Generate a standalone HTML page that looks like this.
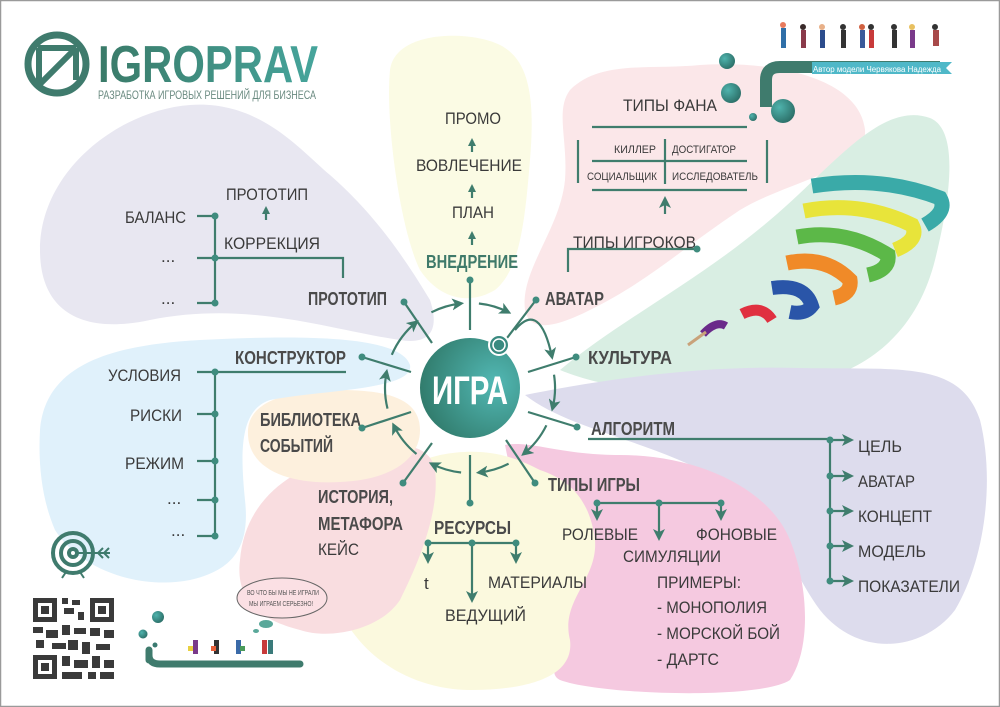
<!DOCTYPE html>
<html><head><meta charset="utf-8"><style>
html,body{margin:0;padding:0;background:#fff}
svg{display:block}
text{font-family:"Liberation Sans","DejaVu Sans",sans-serif}
.r{fill:#3a3a3a;font-size:17px}
.b{fill:#4a4a4a;font-size:18px;font-weight:bold}
.g{fill:#3f7a6a;font-size:18px;font-weight:bold}
.s{fill:#3a3a3a;font-size:11px}
.ln{stroke:#3f7d6d;stroke-width:2.2;fill:none}
.d{fill:#3f8c7e}
</style></head><body>
<svg width="1000" height="707" viewBox="0 0 1000 707" xmlns="http://www.w3.org/2000/svg">
<defs>
<marker id="ah" markerWidth="8" markerHeight="8" refX="6" refY="4" orient="auto" markerUnits="userSpaceOnUse"><path d="M0,0 L8,4 L0,8 z" fill="#3f7d6d"/></marker>
<marker id="ah2" markerWidth="12" markerHeight="12" refX="9" refY="6" orient="auto" markerUnits="userSpaceOnUse"><path d="M0,0 L12,6 L0,12 L3,6 z" fill="#3f7d6d"/></marker>
<radialGradient id="cg" cx="0.75" cy="0.45" r="0.8"><stop offset="0" stop-color="#52b8b4"/><stop offset="1" stop-color="#2f7868"/></radialGradient>
<linearGradient id="lg" x1="0" x2="1"><stop offset="0" stop-color="#3a7a68"/><stop offset="1" stop-color="#46a59c"/></linearGradient>
<radialGradient id="bg" cx="0.35" cy="0.35" r="0.7"><stop offset="0" stop-color="#4fb3ad"/><stop offset="1" stop-color="#2c6f68"/></radialGradient>
</defs>
<rect x="0.5" y="0.5" width="999" height="706" fill="#fff" stroke="#9a9a9a" stroke-width="1.5"/>

<!-- blobs -->
<path d="M40,250 C40,170 120,110 190,105 C260,100 300,150 330,175 C370,210 400,250 430,300 C440,330 430,345 400,340 C330,330 250,300 150,320 C80,335 40,310 40,250z" fill="#e8e7f1"/>
<path d="M390,70 C395,30 470,30 500,45 C530,60 535,100 530,160 C525,220 520,270 495,290 C470,305 440,300 420,270 C400,230 385,120 390,70z" fill="#fbfbe4"/>
<path d="M570,90 C600,60 650,70 700,65 C780,60 860,80 865,130 C868,170 790,180 740,210 C680,250 650,280 590,310 C560,325 530,335 525,310 C520,270 560,230 565,180 C568,140 555,110 570,90z" fill="#fbe7e9"/>
<path d="M560,370 C620,320 700,280 770,220 C830,170 880,100 930,118 C960,130 950,200 935,260 C920,320 880,370 800,385 C720,400 620,395 560,370z" fill="#d9eee3"/>
<path d="M525,395 C600,380 700,365 800,368 C900,370 960,360 980,420 C995,480 985,560 955,610 C925,650 860,660 820,610 C790,570 780,520 720,480 C650,440 570,430 525,395z" fill="#dddced"/>
<path d="M505,445 C530,440 560,455 620,455 C700,455 770,490 790,540 C810,590 810,650 790,680 C760,700 600,695 560,680 C540,670 580,640 560,610 C540,570 520,520 505,445z" fill="#f5c9e0"/>
<path d="M330,560 C330,500 380,470 440,455 C490,445 520,460 540,470 C570,480 590,500 595,540 C598,580 560,600 570,640 C575,680 520,690 470,690 C400,690 330,640 330,560z" fill="#fbf9de"/>
<path d="M240,560 C245,500 290,470 340,455 C390,440 430,440 435,470 C440,510 420,560 400,600 C380,630 330,640 300,630 C260,620 235,600 240,560z" fill="#f9dde0"/>
<path d="M248,430 C250,400 290,390 340,390 C390,390 420,400 420,430 C420,460 390,480 340,482 C290,485 246,470 248,430z" fill="#fdf0dd"/>
<path d="M40,430 C45,365 110,345 200,340 C300,335 400,335 410,365 C415,390 320,390 270,400 C240,410 240,450 245,500 C250,545 235,570 190,580 C140,590 80,570 55,530 C42,500 38,465 40,430z" fill="#e0f1fb"/>

<!-- logo -->
<circle cx="57" cy="64" r="29" fill="none" stroke="#3f7b6d" stroke-width="7"/>
<path d="M38,48 L76,48 M39,48 L39,84 M76,48 L76,80 M40,84 L76,48" stroke="#3f7b6d" stroke-width="6" fill="none"/>
<text x="98" y="82" font-size="52" font-weight="bold" fill="url(#lg)" textLength="220" lengthAdjust="spacingAndGlyphs">IGROPRAV</text>
<text x="98" y="99" font-size="12" fill="#6a8a80" textLength="218" lengthAdjust="spacingAndGlyphs">РАЗРАБОТКА ИГРОВЫХ РЕШЕНИЙ ДЛЯ БИЗНЕСА</text>

<!-- top branch -->
<text class="r" x="445" y="124" textLength="56" lengthAdjust="spacingAndGlyphs">ПРОМО</text>
<text class="r" x="416" y="171" textLength="106" lengthAdjust="spacingAndGlyphs">ВОВЛЕЧЕНИЕ</text>
<text class="r" x="452" y="218" textLength="42" lengthAdjust="spacingAndGlyphs">ПЛАН</text>
<text class="g" x="426" y="268" textLength="92" lengthAdjust="spacingAndGlyphs">ВНЕДРЕНИЕ</text>
<line class="ln" x1="472" y1="152" x2="472" y2="140" marker-end="url(#ah)"/>
<line class="ln" x1="472" y1="198" x2="472" y2="186" marker-end="url(#ah)"/>
<line class="ln" x1="472" y1="245" x2="472" y2="233" marker-end="url(#ah)"/>

<!-- prototype branch -->
<text class="r" x="226" y="200" textLength="82" lengthAdjust="spacingAndGlyphs">ПРОТОТИП</text>
<line class="ln" x1="266" y1="220" x2="266" y2="208" marker-end="url(#ah)"/>
<text class="r" x="224" y="249" textLength="96" lengthAdjust="spacingAndGlyphs">КОРРЕКЦИЯ</text>
<text class="r" x="125" y="223" textLength="61" lengthAdjust="spacingAndGlyphs">БАЛАНС</text>
<text class="r" x="161" y="262">...</text>
<text class="r" x="161" y="304">...</text>
<path class="ln" d="M197,216 H215 M215,216 V303 M197,258 H343 V278 M197,303 H215"/>
<circle class="d" cx="215" cy="216" r="3.5"/><circle class="d" cx="215" cy="258" r="3.5"/><circle class="d" cx="215" cy="303" r="3.5"/>
<text class="b" x="308" y="305" textLength="79" lengthAdjust="spacingAndGlyphs">ПРОТОТИП</text>

<!-- constructor -->
<text class="b" x="235" y="364" textLength="111" lengthAdjust="spacingAndGlyphs">КОНСТРУКТОР</text>
<path class="ln" d="M197,372 H346 M215,372 V536 M197,414 H215 M197,461 H215 M197,500 H215 M197,536 H215"/>
<circle class="d" cx="215" cy="372" r="3.5"/><circle class="d" cx="215" cy="414" r="3.5"/><circle class="d" cx="215" cy="461" r="3.5"/><circle class="d" cx="215" cy="500" r="3.5"/><circle class="d" cx="215" cy="536" r="3.5"/>
<text class="r" x="108" y="381" textLength="73" lengthAdjust="spacingAndGlyphs">УСЛОВИЯ</text>
<text class="r" x="130" y="421" textLength="52" lengthAdjust="spacingAndGlyphs">РИСКИ</text>
<text class="r" x="125" y="469" textLength="59" lengthAdjust="spacingAndGlyphs">РЕЖИМ</text>
<text class="r" x="167" y="504">...</text>
<text class="r" x="171" y="536">...</text>

<text class="b" x="260" y="426" textLength="101" lengthAdjust="spacingAndGlyphs">БИБЛИОТЕКА</text>
<text class="b" x="260" y="452" textLength="73" lengthAdjust="spacingAndGlyphs">СОБЫТИЙ</text>
<text class="b" x="318" y="503" textLength="75" lengthAdjust="spacingAndGlyphs">ИСТОРИЯ,</text>
<text class="b" x="318" y="530" textLength="85" lengthAdjust="spacingAndGlyphs">МЕТАФОРА</text>
<text class="r" x="318" y="555" textLength="41" lengthAdjust="spacingAndGlyphs">КЕЙС</text>

<!-- resources -->
<text class="b" x="434" y="534" textLength="77" lengthAdjust="spacingAndGlyphs">РЕСУРСЫ</text>
<path class="ln" d="M428,543 H516"/>
<line class="ln" x1="428" y1="543" x2="428" y2="561" marker-end="url(#ah2)"/>
<line class="ln" x1="472" y1="543" x2="472" y2="600" marker-end="url(#ah2)"/>
<line class="ln" x1="516" y1="543" x2="516" y2="561" marker-end="url(#ah2)"/>
<circle class="d" cx="428" cy="543" r="3.5"/><circle class="d" cx="472" cy="543" r="3.5"/><circle class="d" cx="516" cy="543" r="3.5"/>
<text class="r" x="424" y="589">t</text>
<text class="r" x="488" y="588" textLength="99" lengthAdjust="spacingAndGlyphs">МАТЕРИАЛЫ</text>
<text class="r" x="445" y="621" textLength="81" lengthAdjust="spacingAndGlyphs">ВЕДУЩИЙ</text>

<!-- game types -->
<text class="b" x="548" y="491" textLength="92" lengthAdjust="spacingAndGlyphs">ТИПЫ ИГРЫ</text>
<path class="ln" d="M597,503 H721"/>
<line class="ln" x1="597" y1="503" x2="597" y2="518" marker-end="url(#ah2)"/>
<line class="ln" x1="659" y1="503" x2="659" y2="538" marker-end="url(#ah2)"/>
<line class="ln" x1="721" y1="503" x2="721" y2="518" marker-end="url(#ah2)"/>
<circle class="d" cx="597" cy="503" r="3.5"/><circle class="d" cx="659" cy="503" r="3.5"/><circle class="d" cx="721" cy="503" r="3.5"/>
<text class="r" x="562" y="540" textLength="76" lengthAdjust="spacingAndGlyphs">РОЛЕВЫЕ</text>
<text class="r" x="696" y="540" textLength="81" lengthAdjust="spacingAndGlyphs">ФОНОВЫЕ</text>
<text class="r" x="623" y="562" textLength="98" lengthAdjust="spacingAndGlyphs">СИМУЛЯЦИИ</text>
<text class="r" x="657" y="588" textLength="84" lengthAdjust="spacingAndGlyphs">ПРИМЕРЫ:</text>
<text class="r" x="657" y="613" textLength="110" lengthAdjust="spacingAndGlyphs">- МОНОПОЛИЯ</text>
<text class="r" x="657" y="639" textLength="123" lengthAdjust="spacingAndGlyphs">- МОРСКОЙ БОЙ</text>
<text class="r" x="657" y="665" textLength="62" lengthAdjust="spacingAndGlyphs">- ДАРТС</text>

<!-- algorithm -->
<text class="b" x="591" y="435" textLength="84" lengthAdjust="spacingAndGlyphs">АЛГОРИТМ</text>
<path class="ln" d="M588,439 H830 V582"/>
<line class="ln" x1="830" y1="440" x2="851" y2="440" marker-end="url(#ah2)"/>
<line class="ln" x1="830" y1="476" x2="851" y2="476" marker-end="url(#ah2)"/>
<line class="ln" x1="830" y1="511" x2="851" y2="511" marker-end="url(#ah2)"/>
<line class="ln" x1="830" y1="546" x2="851" y2="546" marker-end="url(#ah2)"/>
<line class="ln" x1="830" y1="581" x2="851" y2="581" marker-end="url(#ah2)"/>
<circle class="d" cx="830" cy="440" r="3.5"/><circle class="d" cx="830" cy="476" r="3.5"/><circle class="d" cx="830" cy="511" r="3.5"/><circle class="d" cx="830" cy="546" r="3.5"/><circle class="d" cx="830" cy="581" r="3.5"/>
<text class="r" x="858" y="452" textLength="44" lengthAdjust="spacingAndGlyphs">ЦЕЛЬ</text>
<text class="r" x="858" y="487" textLength="57" lengthAdjust="spacingAndGlyphs">АВАТАР</text>
<text class="r" x="858" y="522" textLength="74" lengthAdjust="spacingAndGlyphs">КОНЦЕПТ</text>
<text class="r" x="858" y="557" textLength="68" lengthAdjust="spacingAndGlyphs">МОДЕЛЬ</text>
<text class="r" x="858" y="592" textLength="102" lengthAdjust="spacingAndGlyphs">ПОКАЗАТЕЛИ</text>

<text class="b" x="588" y="364" textLength="84" lengthAdjust="spacingAndGlyphs">КУЛЬТУРА</text>

<!-- avatar / fun types -->
<text class="b" x="545" y="305" textLength="59" lengthAdjust="spacingAndGlyphs">АВАТАР</text>
<text class="r" x="573" y="248" textLength="123" lengthAdjust="spacingAndGlyphs">ТИПЫ ИГРОКОВ</text>
<path class="ln" d="M568,272 V249 H697"/>
<circle class="d" cx="697" cy="249" r="3.5"/>
<line class="ln" x1="665" y1="214" x2="665" y2="199" marker-end="url(#ah2)"/>
<text class="r" x="623" y="111" textLength="94" lengthAdjust="spacingAndGlyphs">ТИПЫ ФАНА</text>
<path class="ln" d="M592,127 H747 M592,161 H747 M592,190 H747 M665,139 V184 M578,140 V183 M767,140 V183"/>
<text class="s" x="614" y="153" textLength="42" lengthAdjust="spacingAndGlyphs">КИЛЛЕР</text>
<text class="s" x="672" y="153" textLength="64" lengthAdjust="spacingAndGlyphs">ДОСТИГАТОР</text>
<text class="s" x="587" y="180" textLength="70" lengthAdjust="spacingAndGlyphs">СОЦИАЛЬЩИК</text>
<text class="s" x="672" y="180" textLength="86" lengthAdjust="spacingAndGlyphs">ИССЛЕДОВАТЕЛЬ</text>

<!-- decor top right -->
<circle cx="727" cy="61" r="8" fill="url(#bg)"/><circle cx="731" cy="93" r="10" fill="url(#bg)"/><circle cx="753" cy="117" r="4" fill="url(#bg)"/><circle cx="783" cy="111" r="12" fill="url(#bg)"/>
<path d="M766,107 V80 Q766,67 780,67 H940" stroke="#3f7b6d" stroke-width="12" fill="none"/>
<path d="M812,62 H952 L946,68 L952,74 H812z" fill="#4fb8c8"/>
<text x="813" y="72" font-size="8" fill="#fff" textLength="128" lengthAdjust="spacingAndGlyphs">Автор модели Червякова Надежда</text>
<g>
<rect x="781" y="28" width="5" height="20" fill="#2f6fa8"/><circle cx="783" cy="25" r="3" fill="#e87a5d"/>
<rect x="801" y="30" width="5" height="18" fill="#8a3a4a"/><circle cx="803" cy="27" r="3" fill="#3a2a2a"/>
<rect x="820" y="30" width="5" height="18" fill="#2c4c8c"/><circle cx="822" cy="27" r="3" fill="#e8b088"/>
<rect x="841" y="30" width="5" height="18" fill="#333"/><circle cx="843" cy="27" r="3" fill="#333"/>
<rect x="860" y="30" width="5" height="18" fill="#3a5a9a"/><circle cx="862" cy="27" r="3" fill="#d06040"/>
<rect x="869" y="30" width="5" height="18" fill="#c83a3a"/><circle cx="871" cy="27" r="3" fill="#333"/>
<rect x="892" y="30" width="5" height="18" fill="#333"/><circle cx="894" cy="27" r="3" fill="#333"/>
<rect x="910" y="30" width="5" height="18" fill="#7a3a8a"/><circle cx="912" cy="27" r="3" fill="#e8c060"/>
<rect x="933" y="30" width="6" height="16" fill="#a84a4a"/><circle cx="935" cy="27" r="3" fill="#333"/>
</g>

<!-- spiral -->
<g fill="none" stroke-linecap="butt">
<path d="M812,186 Q880,175 940,198 Q948,212 925,225" stroke="#3aaaa8" stroke-width="15"/>
<path d="M804,211 Q860,200 912,225 Q920,240 895,250" stroke="#e8e43a" stroke-width="15"/>
<path d="M797,237 Q845,228 888,255 Q890,270 868,275" stroke="#5cb848" stroke-width="15"/>
<path d="M787,263 Q825,255 850,280 Q852,294 834,298" stroke="#f08a28" stroke-width="15"/>
<path d="M772,288 Q805,283 812,306 Q805,315 790,312" stroke="#2a55a8" stroke-width="14"/>
<path d="M742,314 Q762,304 772,320" stroke="#e03040" stroke-width="11"/>
<path d="M703,334 Q716,320 726,326" stroke="#6a2a8a" stroke-width="8"/>
<path d="M688,345 L706,332" stroke="#c9a27a" stroke-width="3"/>
</g>

<!-- ring -->
<g class="ln" stroke-width="2">
<path d="M431.4,312.3 A85,85 0 0 1 461.1,303.5" marker-end="url(#ah2)"/>
<path d="M478.9,303.5 A85,85 0 0 1 508.6,312.3" marker-end="url(#ah2)"/>
<path d="M515,330 Q540,300 552,357" marker-end="url(#ah2)"/>
<path d="M554,374.7 A85,85 0 0 1 552.5,408.6" marker-end="url(#ah2)"/>
<path d="M546.4,425.3 A85,85 0 0 1 523.5,454" marker-end="url(#ah2)"/>
<path d="M508.6,463.7 A85,85 0 0 1 478.9,472.5" marker-end="url(#ah2)"/>
<path d="M461.1,472.5 A85,85 0 0 1 431.4,463.7" marker-end="url(#ah2)"/>
<path d="M416.5,454 A85,85 0 0 1 393.6,425.2" marker-end="url(#ah2)"/>
<path d="M387.5,408.6 A85,85 0 0 1 386.6,371.8" marker-end="url(#ah2)"/>
<path d="M391.8,354.8 A85,85 0 0 1 416.5,322" marker-end="url(#ah2)"/>
</g>
<path class="ln" d="M470,330 V282 M507,338 L536,300 M528,372 L576,357 M528,412 L577,427 M506,440 L535,483 M470,455 V503 M432,443 L403,483 M411,412 L362,428 M411,372 L362,357 M432,343 L404,302"/>
<g class="d"><circle cx="470" cy="280" r="3.5"/><circle cx="536" cy="300" r="3.5"/><circle cx="576" cy="357" r="3.5"/><circle cx="577" cy="427" r="3.5"/><circle cx="535" cy="483" r="3.5"/><circle cx="470" cy="503" r="3.5"/><circle cx="403" cy="483" r="3.5"/><circle cx="362" cy="428" r="3.5"/><circle cx="362" cy="357" r="3.5"/><circle cx="404" cy="302" r="3.5"/></g>

<circle cx="470" cy="388" r="50" fill="url(#cg)"/>
<text x="470" y="404" text-anchor="middle" font-size="40" font-weight="bold" fill="#fff" textLength="76" lengthAdjust="spacingAndGlyphs">ИГРА</text>
<circle cx="499" cy="345" r="10" fill="#3a8a80" stroke="#fff" stroke-width="2"/>
<circle cx="499" cy="345" r="6" fill="none" stroke="#fff" stroke-width="1.5"/>

<!-- target -->
<g fill="none" stroke="#3f7b6d" stroke-width="4">
<circle cx="73" cy="553" r="20"/><circle cx="73" cy="553" r="12"/><circle cx="73" cy="553" r="4"/>
<path d="M77,553 H110 M103,548 L98,553 L103,558 M109,548 L104,553 L109,558" stroke-width="2"/>
<path d="M66,572 L62,578 M80,572 L84,578" stroke-width="2"/>
</g>

<!-- QR -->
<g fill="#3a3a3a">
<rect x="33" y="598" width="24" height="24"/><rect x="38" y="603" width="14" height="14" fill="#fff"/><rect x="41" y="606" width="8" height="8"/>
<rect x="90" y="598" width="24" height="24"/><rect x="95" y="603" width="14" height="14" fill="#fff"/><rect x="98" y="606" width="8" height="8"/>
<rect x="33" y="655" width="24" height="24"/><rect x="38" y="660" width="14" height="14" fill="#fff"/><rect x="41" y="663" width="8" height="8"/>
<rect x="62" y="598" width="6" height="6"/><rect x="72" y="600" width="8" height="5"/><rect x="64" y="608" width="10" height="6"/><rect x="78" y="612" width="6" height="8"/>
<rect x="33" y="627" width="10" height="6"/><rect x="46" y="630" width="12" height="8"/><rect x="36" y="640" width="8" height="8"/><rect x="52" y="643" width="14" height="6"/>
<rect x="62" y="625" width="8" height="10"/><rect x="74" y="628" width="12" height="6"/><rect x="90" y="628" width="10" height="8"/><rect x="104" y="630" width="10" height="8"/>
<rect x="68" y="640" width="10" height="10"/><rect x="82" y="642" width="8" height="12"/><rect x="96" y="644" width="14" height="6"/><rect x="62" y="656" width="8" height="10"/>
<rect x="74" y="660" width="14" height="8"/><rect x="92" y="656" width="8" height="12"/><rect x="104" y="660" width="10" height="8"/><rect x="62" y="672" width="20" height="7"/><rect x="88" y="672" width="8" height="7"/><rect x="100" y="672" width="14" height="7"/>
</g>

<!-- bottom decor -->
<circle cx="158" cy="617" r="6" fill="url(#bg)"/><circle cx="143" cy="634" r="4.5" fill="url(#bg)"/><circle cx="155" cy="645" r="2.5" fill="#3a7a70"/>
<path d="M149,660 V650 M149,655 Q149,664 160,664 H300" stroke="#3f7b6d" stroke-width="7" fill="none" stroke-linecap="round"/>
<g>
<rect x="193" y="640" width="5" height="14" fill="#7a3a8a"/><rect x="188" y="646" width="5" height="5" fill="#e8d040"/>
<rect x="214" y="640" width="5" height="14" fill="#333"/><rect x="211" y="646" width="5" height="5" fill="#e8603a"/>
<rect x="236" y="640" width="5" height="14" fill="#3a6aa8"/><rect x="240" y="646" width="5" height="5" fill="#4a9a5a"/>
<rect x="262" y="640" width="5" height="14" fill="#c83a3a"/><rect x="268" y="640" width="5" height="14" fill="#3a7a7a"/>
</g>
<ellipse cx="282" cy="598" rx="45" ry="20" fill="#fbe0e4" stroke="#666" stroke-width="1"/>
<text x="247" y="595" font-size="7" fill="#555" textLength="72" lengthAdjust="spacingAndGlyphs">ВО ЧТО БЫ МЫ НЕ ИГРАЛИ</text>
<text x="249" y="606" font-size="7" fill="#555" textLength="64" lengthAdjust="spacingAndGlyphs">МЫ ИГРАЕМ СЕРЬЕЗНО!</text>
<ellipse cx="266" cy="624" rx="7" ry="4" fill="#5aa89a"/><ellipse cx="256" cy="631" rx="3" ry="2" fill="#5aa89a"/>
</svg>
</body></html>
